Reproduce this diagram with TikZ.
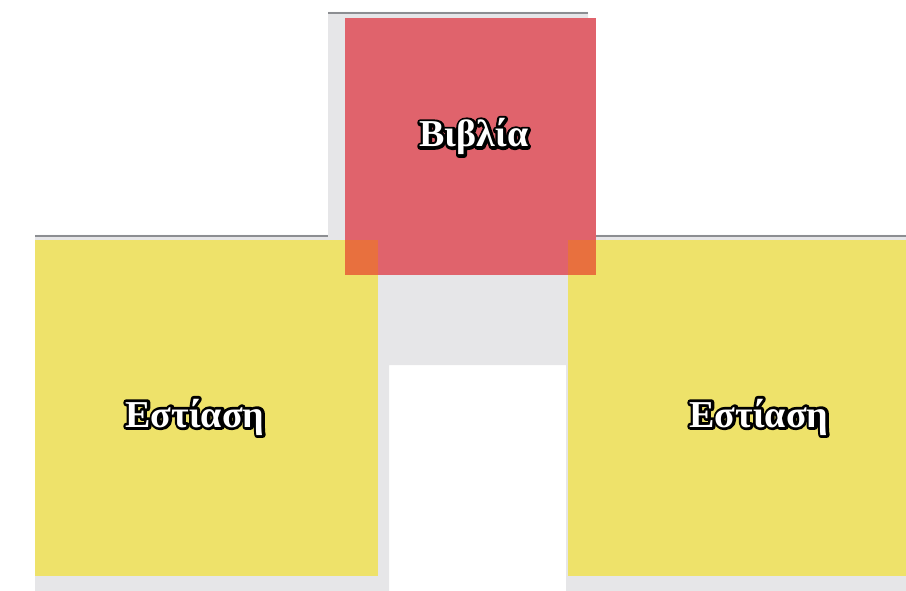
\documentclass[tikz,border=0pt]{standalone}
\usepackage{fontspec}
\setmainfont{Liberation Serif}

\definecolor{floorgray}{HTML}{E6E6E8}
\definecolor{edgegray}{HTML}{8C8E92}
\definecolor{booksred}{HTML}{E0636C}
\definecolor{diningyellow}{HTML}{EEE26A}
\definecolor{overlaporange}{HTML}{E8703E}

\tikzset{
  zonelabel/.style={font=\bfseries\fontsize{38}{40}\selectfont, inner sep=0pt, anchor=base},
  zonefill/.style={fill=#1, draw=none},
}

% outlined label: name, position, text
\newcommand{\outlinedlabel}[3]{%
  \node[zonelabel, text=black] (#1-outline) at (#2)
    {\special{pdf:literal direct 1 Tr 5.6 w 1 j}#3\special{pdf:literal direct 0 Tr}};
  \node[zonelabel, text=white] (#1) at (#2) {#3};
}

\begin{document}
\begin{tikzpicture}[x=1pt,y=-1pt]
    \useasboundingbox (0,0) rectangle (906,591);

    % Floor
    \fill[floorgray] (35,235) -- (328,235) -- (328,12) -- (588,12) -- (588,235) -- (906,235)
        -- (906,591) -- (566,591) -- (566,365) -- (389,365) -- (389,591) -- (35,591) -- cycle;

    % Top edges
    \draw[edgegray, line width=2.5] (328,13) -- (588,13);
    \draw[edgegray, line width=2.5] (35,236) -- (328,236);
    \draw[edgegray, line width=2.5] (588,236) -- (906,236);

    % Zones
    \fill[zonefill=diningyellow] (35,240) rectangle (378,576);
    \fill[zonefill=diningyellow] (568,240) rectangle (906,576);
    \fill[zonefill=booksred] (345,18) rectangle (596,275);
    \fill[zonefill=overlaporange] (345,240) rectangle (378,275);
    \fill[zonefill=overlaporange] (568,240) rectangle (596,275);

    % Labels
    \outlinedlabel{books}{474,147}{Βιβλία}
    \outlinedlabel{diningleft}{195,427}{Εστίαση}
    \outlinedlabel{diningright}{759,427}{Εστίαση}
\end{tikzpicture}
\end{document}
